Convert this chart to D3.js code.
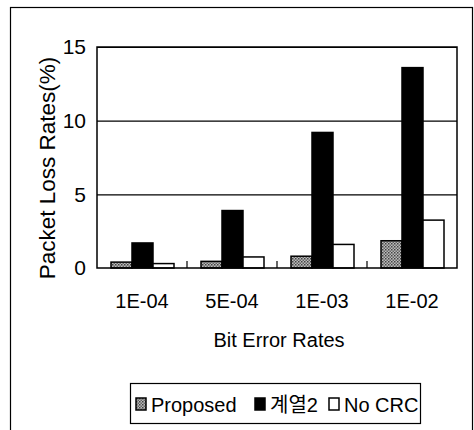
<!DOCTYPE html>
<html>
<head>
<meta charset="utf-8">
<script src="https://cdn.jsdelivr.net/npm/d3@7"></script>
<style>
    body { margin: 0; background: #fff; }
    svg { display: block; font-family: 'Liberation Sans', Arial, sans-serif; }
</style>
</head>
<body>
<div id="container"></div>
<script>
// chart data
const categories = ['1E-04', '5E-04', '1E-03', '1E-02']
const seriesNames = ['Proposed', '계열2', 'No CRC']
const proposed = [0.4, 0.45, 0.8, 1.85]
const series2 = [1.7, 3.9, 9.2, 13.6]
const noCrc = [0.3, 0.75, 1.6, 3.25]
const yTicks = [0, 5, 10, 15]

const width = 474
const height = 430
const margin = { left: 97, right: 17, top: 47, bottom: 162 }

const svg = d3
    .select('#container')
    .append('svg')
    .attr('width', width)
    .attr('height', height)

// dotted gray fill for "Proposed"
const pattern = svg
    .append('defs')
    .append('pattern')
    .attr('id', 'stipple')
    .attr('width', 3)
    .attr('height', 3)
    .attr('patternUnits', 'userSpaceOnUse')
pattern.append('rect').attr('width', 3).attr('height', 3).attr('fill', '#bbb')
pattern.append('rect').attr('width', 1.5).attr('height', 1.5).attr('fill', '#444')
pattern.append('rect').attr('x', 1.5).attr('y', 1.5).attr('width', 1.5).attr('height', 1.5).attr('fill', '#666')

const fills = ['url(#stipple)', '#000', '#fff']

// outer frame
svg.append('rect')
    .attr('x', 10.5)
    .attr('y', 7.5)
    .attr('width', 462)
    .attr('height', 440)
    .attr('fill', 'none')
    .attr('stroke', '#000')
    .attr('stroke-width', 1.2)

const x0 = d3
    .scaleBand()
    .domain(categories)
    .range([margin.left, width - margin.right])

const x1 = d3
    .scaleBand()
    .domain(seriesNames)
    .range([14, 77])

const y = d3
    .scaleLinear()
    .domain([0, 15])
    .range([height - margin.bottom, margin.top])

// grid lines
svg.append('g')
    .selectAll('line')
    .data(yTicks.filter((d) => d > 0))
    .join('line')
    .attr('x1', margin.left)
    .attr('x2', width - margin.right)
    .attr('y1', (d) => y(d) + 0.5)
    .attr('y2', (d) => y(d) + 0.5)
    .attr('stroke', '#000')
    .attr('stroke-width', 1.2)

// bars
const rows = categories.map((c, i) => ({
    cat: c,
    values: [proposed[i], series2[i], noCrc[i]]
}))

svg.append('g')
    .selectAll('g')
    .data(rows)
    .join('g')
    .attr('transform', (d) => `translate(${x0(d.cat)},0)`)
    .selectAll('rect')
    .data((d) => d.values.map((v, k) => ({ k, v })))
    .join('rect')
    .attr('x', (d) => x1(seriesNames[d.k]))
    .attr('width', x1.bandwidth())
    .attr('y', (d) => y(d.v))
    .attr('height', (d) => y(0) - y(d.v))
    .attr('fill', (d) => fills[d.k])
    .attr('stroke', '#000')
    .attr('stroke-width', 1.5)

// plot border
svg.append('rect')
    .attr('x', margin.left)
    .attr('y', margin.top)
    .attr('width', width - margin.right - margin.left)
    .attr('height', y(0) - margin.top)
    .attr('fill', 'none')
    .attr('stroke', '#000')
    .attr('stroke-width', 1.5)

// y axis
const yAxis = svg
    .append('g')
    .attr('transform', `translate(${margin.left},0)`)
    .call(d3.axisLeft(y).tickValues(yTicks).tickSize(0).tickPadding(11))
yAxis.select('.domain').remove()
yAxis.selectAll('text')
    .attr('font-size', 21)
    .attr('font-family', "'Liberation Sans', Arial, sans-serif")
    .attr('fill', '#000')

// category boundary ticks (inside)
svg.append('g')
    .selectAll('line')
    .data(categories.slice(1))
    .join('line')
    .attr('x1', (d) => x0(d))
    .attr('x2', (d) => x0(d))
    .attr('y1', y(0))
    .attr('y2', y(0) - 7)
    .attr('stroke', '#000')
    .attr('stroke-width', 1.2)

// x axis labels
const xAxis = svg
    .append('g')
    .attr('transform', `translate(0,${y(0)})`)
    .call(d3.axisBottom(x0).tickSize(0).tickPadding(26))
xAxis.select('.domain').remove()
xAxis.selectAll('text')
    .attr('font-size', 20)
    .attr('font-family', "'Liberation Sans', Arial, sans-serif")
    .attr('fill', '#000')

// axis titles
svg.append('text')
    .attr('x', 279)
    .attr('y', 347)
    .attr('text-anchor', 'middle')
    .attr('font-size', 20)
    .text('Bit Error Rates')

svg.append('text')
    .attr('transform', 'translate(55,168) rotate(-90)')
    .attr('text-anchor', 'middle')
    .attr('font-size', 22.5)
    .text('Packet Loss Rates(%)')

// legend
const legend = svg.append('g').attr('transform', 'translate(130,383)')
legend.append('rect')
    .attr('x', 0.5)
    .attr('y', 0.5)
    .attr('width', 290)
    .attr('height', 40)
    .attr('fill', '#fff')
    .attr('stroke', '#000')
    .attr('stroke-width', 1.2)

const legendX = [6, 125, 199]
const items = legend
    .selectAll('g.item')
    .data(seriesNames)
    .join('g')
    .attr('class', 'item')
    .attr('transform', (d, i) => `translate(${legendX[i]},0)`)
items.append('rect')
    .attr('x', 0)
    .attr('y', 15)
    .attr('width', 10)
    .attr('height', 12)
    .attr('fill', (d, i) => fills[i])
    .attr('stroke', '#000')
    .attr('stroke-width', 1.5)
items.append('text')
    .attr('x', 15)
    .attr('y', 29)
    .attr('font-size', 20)
    .attr('font-family', "'Liberation Sans', 'Noto Sans CJK KR', sans-serif")
    .text((d) => d)
</script>
</body>
</html>
